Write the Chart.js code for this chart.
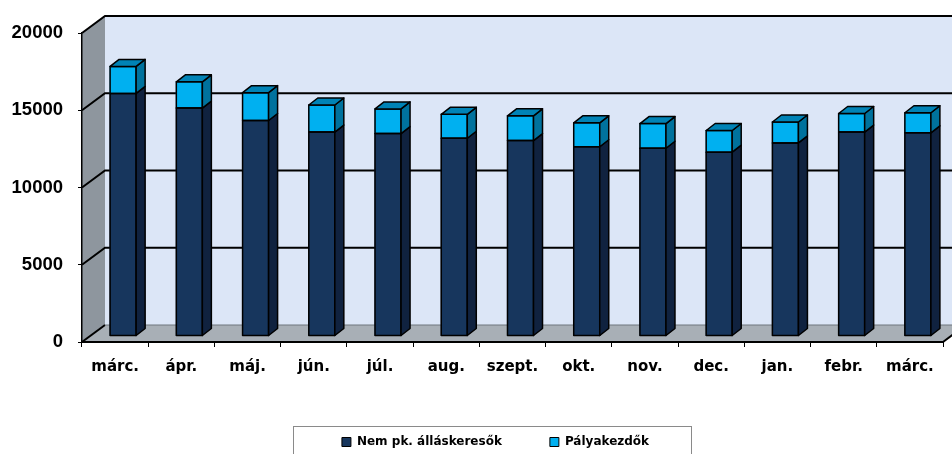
<!DOCTYPE html>
<html>
<head>
<meta charset="utf-8">
<script src="https://cdn.jsdelivr.net/npm/chart.js@4/dist/chart.umd.min.js"></script>
<style>
  html, body { margin: 0; padding: 0; background: #fff; }
  #wrap { width: 952px; height: 454px; }
</style>
</head>
<body>
<div id="wrap"><canvas id="chart"></canvas></div>
<script>
// ---- data ----
const months = ['márc.', 'ápr.', 'máj.', 'jún.', 'júl.', 'aug.', 'szept.', 'okt.', 'nov.', 'dec.', 'jan.', 'febr.', 'márc.'];
const nemPk = [15700, 14750, 13950, 13200, 13100, 12800, 12650, 12250, 12150, 11900, 12500, 13200, 13150];
const palyakezdok = [1750, 1700, 1800, 1750, 1600, 1550, 1600, 1550, 1600, 1400, 1350, 1200, 1300];
const yTicks = [0, 5000, 10000, 15000, 20000];

// ---- 3d look ----
const WALL_DX = 23, WALL_DY = 17;   // depth of the box
const BAR_DX = 8, BAR_DY = 6;       // bars sit a bit behind the front plane
const BAR_DEEP_X = 9, BAR_DEEP_Y = 7;
const frontColors = ['#17365d', '#00b0f0'];
const sideColors = ['#10223f', '#00729d'];
const topColors = ['#163256', '#0083b6'];

function poly(ctx, pts) {
  ctx.beginPath();
  ctx.moveTo(pts[0][0], pts[0][1]);
  for (let i = 1; i < pts.length; i++) ctx.lineTo(pts[i][0], pts[i][1]);
  ctx.closePath();
}

const box3d = {
  id: 'box3d',
  afterLayout(chart) {
    // legend in the original sits a little right of centre
    chart.legend.left += 48;
  },
  beforeDraw(chart) {
    const { ctx, chartArea: a, scales: { y } } = chart;
    const L = a.left, R = a.right, T = a.top, B = a.bottom;
    ctx.save();
    // back wall
    ctx.fillStyle = '#dce6f7';
    ctx.fillRect(L + WALL_DX, T - WALL_DY, R - L, B - T);
    // side wall
    ctx.fillStyle = '#8e969e';
    poly(ctx, [[L, T], [L + WALL_DX, T - WALL_DY], [L + WALL_DX, B - WALL_DY], [L, B]]);
    ctx.fill();
    // floor
    ctx.fillStyle = '#a8afb6';
    poly(ctx, [[L, B], [R, B], [R + WALL_DX, B - WALL_DY], [L + WALL_DX, B - WALL_DY]]);
    ctx.fill();
    // grid on walls
    yTicks.forEach(v => {
      const py = y.getPixelForValue(v);
      ctx.lineWidth = 2;
      ctx.strokeStyle = '#000';
      ctx.beginPath();
      ctx.moveTo(L, py);
      ctx.lineTo(L + WALL_DX, py - WALL_DY);
      if (v === 0) {
        ctx.stroke();
        ctx.strokeStyle = '#6f767c';
        ctx.lineWidth = 1;
        ctx.beginPath();
        ctx.moveTo(L + WALL_DX, py - WALL_DY);
      }
      ctx.lineTo(R + WALL_DX, py - WALL_DY);
      ctx.stroke();
    });
    ctx.lineWidth = 2;
    ctx.strokeStyle = '#000';
    ctx.beginPath();
    ctx.moveTo(R, B);
    ctx.lineTo(R + WALL_DX, B - WALL_DY);
    ctx.stroke();
    ctx.restore();
  },
  beforeDatasetsDraw(chart) {
    chart.ctx.save();
    chart.ctx.translate(BAR_DX, -BAR_DY);
  },
  afterDatasetsDraw(chart) {
    const { ctx } = chart;
    const last = chart.data.datasets.length - 1;
    ctx.lineWidth = 1.5;
    ctx.strokeStyle = '#000';
    ctx.lineJoin = 'round';
    chart.data.datasets.forEach((ds, di) => {
      chart.getDatasetMeta(di).data.forEach(bar => {
        const { x, y, base, width } = bar.getProps(['x', 'y', 'base', 'width'], true);
        const l = x - width / 2, r = x + width / 2;
        ctx.strokeRect(l, y, r - l, base - y);
        ctx.fillStyle = sideColors[di];
        poly(ctx, [[r, y], [r + BAR_DEEP_X, y - BAR_DEEP_Y], [r + BAR_DEEP_X, base - BAR_DEEP_Y], [r, base]]);
        ctx.fill();
        ctx.stroke();
        if (di === last) {
          ctx.fillStyle = topColors[di];
          poly(ctx, [[l, y], [l + BAR_DEEP_X, y - BAR_DEEP_Y], [r + BAR_DEEP_X, y - BAR_DEEP_Y], [r, y]]);
          ctx.fill();
          ctx.stroke();
        }
      });
    });
    ctx.restore();
  },
  afterDraw(chart) {
    const hb = chart.legend.legendHitBoxes;
    if (!hb || !hb.length) return;
    const { ctx } = chart;
    const lastBox = hb[hb.length - 1];
    const left = hb[0].left - 49;
    const right = lastBox.left + lastBox.width + 42;
    const top = hb[0].top - 10;
    ctx.save();
    ctx.strokeStyle = '#8a8a8a';
    ctx.lineWidth = 1;
    ctx.strokeRect(Math.round(left) + 0.5, Math.round(top) + 0.5, Math.round(right - left), 60);
    ctx.restore();
  }
};

new Chart(document.getElementById('chart'), {
  type: 'bar',
  data: {
    labels: months,
    datasets: [
      {
        label: 'Nem pk. álláskeresők',
        data: nemPk,
        backgroundColor: frontColors[0],
        borderWidth: 0,
        inflateAmount: 0.5
      },
      {
        label: 'Pályakezdők',
        data: palyakezdok,
        backgroundColor: frontColors[1],
        borderWidth: 0,
        inflateAmount: 0.5
      }
    ]
  },
  options: {
    responsive: true,
    maintainAspectRatio: false,
    animation: false,
    layout: { padding: { left: 0, right: 9, top: 33, bottom: -4 } },
    datasets: { bar: { barPercentage: 0.393, categoryPercentage: 1 } },
    scales: {
      x: {
        stacked: true,
        afterFit: s => { s.height = 46; },
        grid: { drawOnChartArea: false, tickLength: 5, color: '#000' },
        border: { color: '#000', width: 2 },
        ticks: { color: '#000', padding: 11, font: { family: 'DejaVu Sans', weight: 'bold', size: 15 } }
      },
      y: {
        stacked: true,
        min: 0,
        max: 20000,
        afterFit: s => { s.width = 82; },
        afterBuildTicks: s => { s.ticks = yTicks.map(v => ({ value: v })); },
        grid: { drawOnChartArea: false, tickLength: 4, color: '#000' },
        border: { color: '#000', width: 1.5 },
        ticks: {
          color: '#000',
          padding: 15,
          callback: v => String(v),
          font: { family: 'Liberation Sans', weight: 'bold', size: 18.5 }
        }
      }
    },
    plugins: {
      tooltip: { enabled: false },
      legend: {
        position: 'bottom',
        labels: {
          color: '#000',
          boxWidth: 9,
          boxHeight: 9,
          padding: 48,
          font: { family: 'DejaVu Sans', weight: 'bold', size: 12 },
          generateLabels: chart => Chart.defaults.plugins.legend.labels.generateLabels(chart)
            .map(item => Object.assign(item, { strokeStyle: '#000', lineWidth: 1 }))
        }
      }
    }
  },
  plugins: [box3d]
});
</script>
</body>
</html>
